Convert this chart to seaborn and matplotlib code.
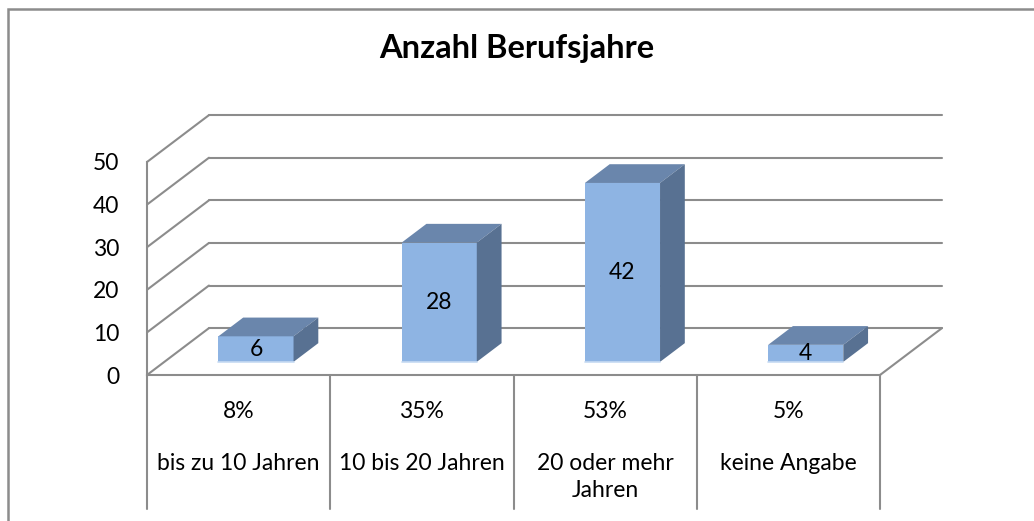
import numpy as np
import matplotlib
matplotlib.use("Agg")
import matplotlib.pyplot as plt
import seaborn as sns
from matplotlib.patches import Polygon, Rectangle

# ---------------------------------
# Data
# ---------------------------------

categories = ["bis zu 10 Jahren", "10 bis 20 Jahren", "20 oder mehr\nJahren", "keine Angabe"]
values = [6, 28, 42, 4]
percents = ["8%", "35%", "53%", "5%"]
yticks = [0, 10, 20, 30, 40, 50]
title = "Anzahl Berufsjahre"

# ---------------------------------
# Style
# ---------------------------------

sns.set_style("white")
plt.rcParams['font.family'] = ['Lato', 'DejaVu Sans']
plt.rcParams['text.color'] = 'black'
plt.rcParams['ytick.labelcolor'] = 'black'

front_col = "#8EB4E3"
top_col = "#6A86AC"
side_col = "#587192"
grid_col = "#8C8C8C"
fs = 16.5

# fake 3d depth (in data units)
DX = 0.338      # full depth, x
DY = 11.0       # full depth, y
f0 = 0.28       # bar front position inside depth
fd = 0.40       # bar depth

fig = plt.figure(figsize=(10.34, 5.21), dpi=100)
ax = fig.add_axes([147/1034, 1 - 375/521, (880-147)/1034, (375-162)/521])

sns.barplot(x=list(range(len(values))), y=values, width=0.41, color=front_col,
            saturation=1, ax=ax, zorder=3)

ax.set_xlim(-0.5, len(values) - 0.5)
ax.set_ylim(0, 50)

# move bars into the depth and add top/side faces
for p, v in zip(ax.patches, values):
    p.set_x(p.get_x() + f0 * DX)
    p.set_y(f0 * DY)
    p.set_linewidth(0)
    x0 = p.get_x()
    x1 = x0 + p.get_width()
    b = f0 * DY
    t = b + v
    ddx, ddy = fd * DX, fd * DY
    ax.add_patch(Polygon([(x0, t), (x1, t), (x1 + ddx, t + ddy), (x0 + ddx, t + ddy)],
                         closed=True, fc=top_col, ec="none", zorder=3, clip_on=False))
    ax.add_patch(Polygon([(x1, b), (x1, t), (x1 + ddx, t + ddy), (x1 + ddx, b + ddy)],
                         closed=True, fc=side_col, ec="none", zorder=3, clip_on=False))
    # light lower edge of the front face
    ax.plot([x0, x1], [b, b], color="#C6DAF2", lw=1.2, zorder=4, clip_on=False)
    ax.text((x0 + x1) / 2, b + v / 2, str(v), ha="center", va="center",
            fontsize=fs, color="black", zorder=4)

# back wall gridlines + left wall diagonals
xl, xr = -0.5, len(values) - 0.5
for v in yticks:
    ax.plot([xl, xl + DX], [v, v + DY], color=grid_col, lw=1.5, clip_on=False, zorder=1)
    ax.plot([xl + DX, xr + DX], [v + DY, v + DY], color=grid_col, lw=1.5, clip_on=False, zorder=1)
ax.plot([xr, xr + DX], [0, DY], color=grid_col, lw=1.5, clip_on=False, zorder=1)

# axes look
for s in ["top", "right"]:
    ax.spines[s].set_visible(False)
for s in ["left", "bottom"]:
    ax.spines[s].set_color(grid_col)
    ax.spines[s].set_linewidth(1.5)
ax.set_yticks(yticks)
ax.set_yticklabels([str(t) for t in yticks], fontsize=fs, color="black")
ax.tick_params(axis="y", direction="out", length=6, width=1.5, color=grid_col, pad=14)
ax.set_xticks([])
ax.set_xlabel("")
ax.set_ylabel("")
ax.patch.set_alpha(0)

# category table below the floor
for i in range(len(values) + 1):
    ax.plot([i - 0.5, i - 0.5], [0, -31.4], color=grid_col, lw=1.5, clip_on=False)
for i, (pc, cat) in enumerate(zip(percents, categories)):
    ax.text(i, -10.1, pc, ha="center", va="baseline", fontsize=fs)
    for k, line in enumerate(cat.split("\n")):
        ax.text(i, -22.3 - 6.3 * k, line, ha="center", va="baseline", fontsize=fs)

# title and chart border
fig.text(0.5, 1 - 58/521, title, ha="center", va="baseline", fontsize=23.5,
         fontweight="bold", color="black")
fig.add_artist(Rectangle((8/1034, -0.1), 1.2, 1 - 9/521 + 0.1, transform=fig.transFigure,
                         fill=False, ec=grid_col, lw=1.8))

fig.savefig("out.png", dpi=100)
